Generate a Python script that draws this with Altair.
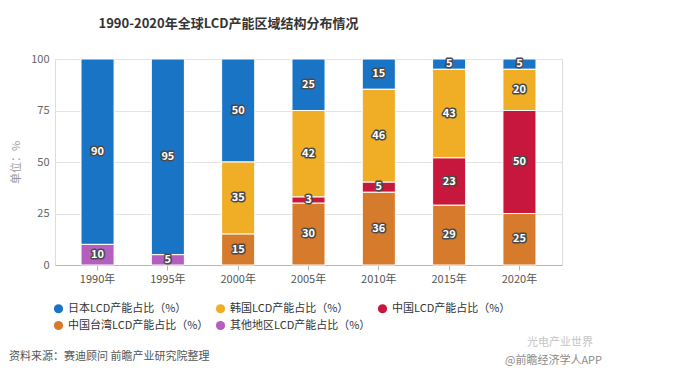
import altair as alt
import pandas as pd

years = ["1990年", "1995年", "2000年", "2005年", "2010年", "2015年", "2020年"]
series = ["日本LCD产能占比（%）", "韩国LCD产能占比（%）", "中国LCD产能占比（%）",
          "中国台湾LCD产能占比（%）", "其他地区LCD产能占比（%）"]
colors = ["#1a74c6", "#efae26", "#c8173c", "#d67a2c", "#b45fbf"]
# stacking order (bottom first)
stack_rank = [4, 3, 2, 1, 0]
# legend fills column by column: put entries so rows read like the reference
legend_order = [0, 3, 1, 4, 2]

japan = [90, 95, 50, 25, 15, 5, 5]
korea = [0, 0, 35, 42, 46, 43, 20]
china = [0, 0, 0, 3, 5, 23, 50]
taiwan = [0, 0, 15, 30, 36, 29, 25]
other = [10, 5, 0, 0, 0, 0, 0]

title_text = "1990-2020年全球LCD产能区域结构分布情况"
source_text = "资料来源：赛迪顾问 前瞻产业研究院整理"
mark_text1 = "@前瞻经济学人APP"
mark_text2 = "光电产业世界"

rows = []
for s, rank, vals in zip(series, stack_rank, [japan, korea, china, taiwan, other]):
    for y, v in zip(years, vals):
        if v > 0:
            rows.append({"year": y, "series": s, "value": v, "ord": rank})
df = pd.DataFrame(rows)

FONT = "Noto Sans CJK SC"

base = alt.Chart(df).transform_joinaggregate(
    total="sum(value)", groupby=["year"]
).transform_calculate(
    pct="datum.value / datum.total * 100"
).transform_stack(
    stack="pct", groupby=["year"], as_=["y0", "y1"],
    sort=[alt.SortField("ord", order="ascending")]
).transform_calculate(
    mid="(datum.y0 + datum.y1) / 2"
)

xenc = alt.X("year:N", sort=years, title=None,
             scale=alt.Scale(paddingInner=0.53, paddingOuter=0.37),
             axis=alt.Axis(labelAngle=0, domainColor="#b5b5b5", tickColor="#b5b5b5",
                           tickSize=5, labelColor="#555", labelFontSize=11,
                           labelPadding=3, grid=False, labelFont=FONT))

dom = [series[i] for i in legend_order]
rng = [colors[i] for i in legend_order]

bars = base.mark_bar(stroke="white", strokeWidth=1).encode(
    x=xenc,
    y=alt.Y("y0:Q", scale=alt.Scale(domain=[0, 100], nice=False),
            axis=alt.Axis(values=[0, 25, 50, 75, 100], domain=False, ticks=False,
                          gridColor="#e3e3e3", labelColor="#666", labelFontSize=11,
                          labelPadding=6, title="单位：%", titleColor="#9a9a9a",
                          titleFontSize=11, titleFontWeight="normal", titlePadding=9,
                          labelFont=FONT, titleFont=FONT)),
    y2="y1:Q",
    color=alt.Color("series:N", scale=alt.Scale(domain=dom, range=rng),
                    legend=alt.Legend(title=None, orient="none", legendX=-2, legendY=244,
                                      columns=3, symbolType="circle", symbolSize=85,
                                      symbolStrokeWidth=0, labelFontSize=11,
                                      labelColor="#333", labelFont=FONT,
                                      columnPadding=6, rowPadding=5, labelLimit=300)),
)

outline = base.mark_text(font=FONT, fontSize=11, fontWeight="bold", color="#4a4a4a",
                         stroke="#4a4a4a", strokeWidth=3, strokeJoin="round").encode(
    x=alt.X("year:N", sort=years), y=alt.Y("mid:Q"), text=alt.Text("value:Q"))
labels = base.mark_text(font=FONT, fontSize=11, fontWeight="bold", color="white").encode(
    x=alt.X("year:N", sort=years), y=alt.Y("mid:Q"), text=alt.Text("value:Q"))

src = alt.Chart(pd.DataFrame({"t": [source_text]})).mark_text(
    font=FONT, fontSize=11, color="#555", align="left", baseline="middle").encode(
    text="t:N", x=alt.value(-46), y=alt.value(298))
wm1 = alt.Chart(pd.DataFrame({"t": [mark_text1]})).mark_text(
    font=FONT, fontSize=11, color="#8a8a8a", align="left", baseline="middle").encode(
    text="t:N", x=alt.value(450), y=alt.value(302))
wm2 = alt.Chart(pd.DataFrame({"t": [mark_text2]})).mark_text(
    font=FONT, fontSize=11, color="#c4c4c4", align="left", baseline="middle").encode(
    text="t:N", x=alt.value(472), y=alt.value(284))

chart = alt.layer(bars, outline, labels, src, wm1, wm2).properties(
    width=507, height=206,
    title=alt.TitleParams(title_text, anchor="middle", frame="group", dx=-80, offset=22,
                          font=FONT, fontSize=13, fontWeight="bold", color="#333"),
    autosize=alt.AutoSizeParams(type="none"),
    padding={"left": 47, "top": 51, "right": 103, "bottom": 117},
).configure_view(stroke=None).configure(background="white")

chart.save("out.html", embed_options={"renderer": "svg", "actions": False})
